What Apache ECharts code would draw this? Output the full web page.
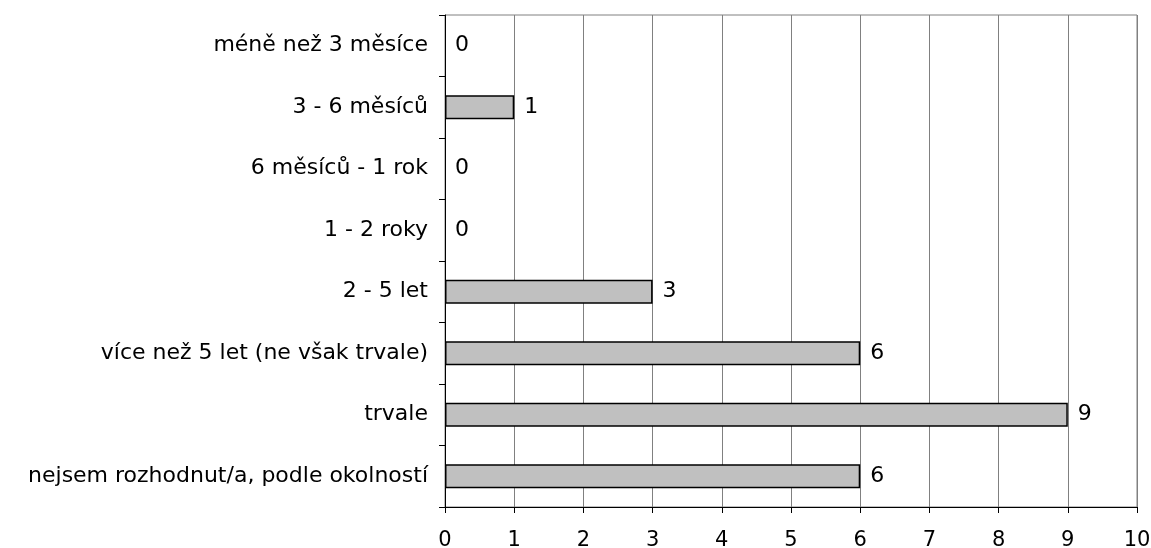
<!DOCTYPE html>
<html>
<head>
<meta charset="utf-8">
<script src="https://cdn.jsdelivr.net/npm/echarts@6/dist/echarts.min.js"></script>
<style>
  html, body { margin: 0; padding: 0; background: #fff; }
  #graf { width: 1151px; height: 548px; }
</style>
</head>
<body>
<div id="graf"></div>
<script>
const kategorie = [
  'méně než 3 měsíce',
  '3 - 6 měsíců',
  '6 měsíců - 1 rok',
  '1 - 2 roky',
  '2 - 5 let',
  'více než 5 let (ne však trvale)',
  'trvale',
  'nejsem rozhodnut/a, podle okolností'
];
const pocty = [0, 1, 0, 0, 3, 6, 9, 6];
const osaMin = 0;
const osaMax = 10;
const krok = 1;

const pismo = 'DejaVu Sans, Verdana, sans-serif';

const getOptions = () => {
  return {
    animation: false,
    textStyle: { fontFamily: pismo },
    grid: {
      left: 445,
      right: 14,
      top: 15,
      bottom: 41,
      outerBoundsMode: 'none',
      containLabel: false,
      show: true,
      borderColor: '#808080',
      borderWidth: 1,
      backgroundColor: 'transparent'
    },
    xAxis: {
      type: 'value',
      min: osaMin,
      max: osaMax,
      interval: krok,
      axisLine: { show: true, lineStyle: { color: '#000', width: 1 } },
      axisTick: { show: true, length: 6, lineStyle: { color: '#000' } },
      axisLabel: { color: '#000', fontSize: 21, margin: 23, fontFamily: pismo },
      splitLine: { show: true, lineStyle: { color: '#808080', width: 1 } }
    },
    yAxis: {
      type: 'category',
      inverse: true,
      data: kategorie,
      axisLine: { show: true, lineStyle: { color: '#000', width: 1 } },
      axisTick: { show: true, length: 6, lineStyle: { color: '#000' } },
      axisLabel: { color: '#000', fontSize: 22, margin: 17, fontFamily: pismo },
      splitLine: { show: false }
    },
    series: [
      {
        type: 'bar',
        // nulove hodnoty bez ramecku
        data: pocty.map(v => v === 0 ? { value: v, itemStyle: { borderWidth: 0 } } : v),
        barWidth: 24,
        itemStyle: { color: '#c0c0c0', borderColor: '#000', borderWidth: 1.5 },
        label: {
          show: true,
          position: 'right',
          distance: 10,
          color: '#000',
          fontSize: 22,
          fontFamily: pismo
        }
      }
    ]
  };
};

window.addEventListener('load', () => {
  const graf = echarts.init(document.getElementById('graf'));
  graf.setOption(getOptions());
});
</script>
</body>
</html>
